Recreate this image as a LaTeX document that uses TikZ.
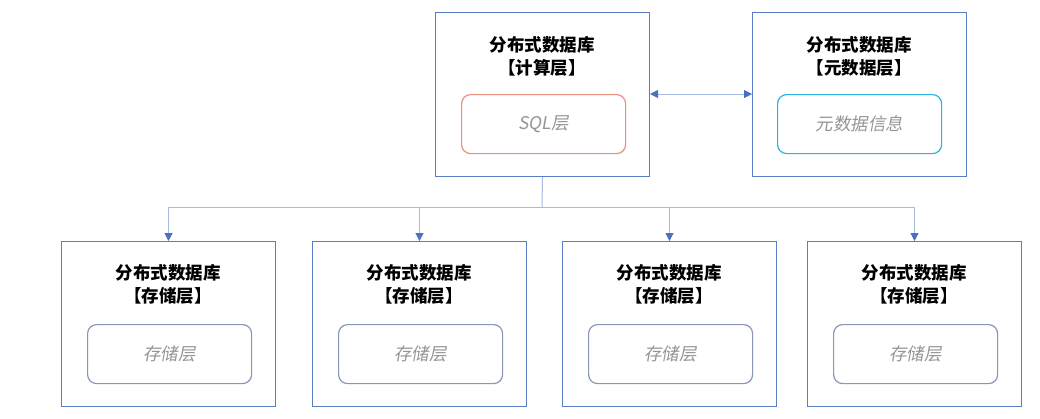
\documentclass[tikz,border=0pt]{standalone}
\usepackage{fontspec}
\usetikzlibrary{arrows.meta}
\setmainfont{Noto Sans CJK SC}
\newfontfamily\cjkslant[FakeSlant=0.18]{Noto Sans CJK SC}
\definecolor{boxblue}{HTML}{5A7EC6}
\definecolor{linkblue}{HTML}{A4BADF}
\definecolor{tipblue}{HTML}{4A70C0}
\definecolor{sqlred}{HTML}{E8907F}
\definecolor{metacyan}{HTML}{2EB2E2}
\definecolor{storgray}{HTML}{8797B5}
\definecolor{txtgray}{HTML}{959595}
\tikzset{
  outer/.style={draw=boxblue, line width=1pt, minimum width=214pt, minimum height=164pt, inner sep=0pt, anchor=north west},
  inner/.style={rounded corners=9pt, line width=1.2pt, minimum width=164pt, minimum height=59pt, inner sep=0pt, anchor=north west, font=\cjkslant\fontsize{17.5}{17.5}\selectfont, text=txtgray},
  title/.style={align=center, font=\bfseries\fontsize{17.5}{23}\selectfont, text=black, inner sep=0pt},
  link/.style={draw=linkblue, line width=1pt},
  tip/.tip={Triangle[length=8pt,width=8pt,color=tipblue]},
}
\begin{document}
\begin{tikzpicture}[x=1pt,y=-1pt]
\useasboundingbox (0,0) rectangle (1040,418);
\fill[white] (0,0) rectangle (1040,418);
% top boxes
\node[outer] (comp) at (435,12) {};
\node[outer] (meta) at (752,12) {};
\node[title] (comptitle) at (542,56) {分布式数据库\\【计算层】};
\node[title] (metatitle) at (859,56) {分布式数据库\\【元数据层】};
\node[inner, draw=sqlred] (sql) at (461,94) {SQL层};
\node[inner, draw=metacyan] (metainfo) at (777,94) {元数据信息};
% bottom boxes
\node[outer, minimum height=165pt] (s1) at (61,241) {};
\node[outer, minimum height=165pt] (s2) at (312,241) {};
\node[outer, minimum height=165pt] (s3) at (562,241) {};
\node[outer, minimum height=165pt] (s4) at (807,241) {};
\node[title] (t1) at (168,284) {分布式数据库\\【存储层】};
\node[title] (t2) at (419,284) {分布式数据库\\【存储层】};
\node[title] (t3) at (669,284) {分布式数据库\\【存储层】};
\node[title] (t4) at (914,284) {分布式数据库\\【存储层】};
\node[inner, draw=storgray] (i1) at (87,324) {存储层};
\node[inner, draw=storgray] (i2) at (338,324) {存储层};
\node[inner, draw=storgray] (i3) at (588,324) {存储层};
\node[inner, draw=storgray] (i4) at (833,324) {存储层};
% connectors
\coordinate (bus) at (542,207);
\draw[link] (comp.south) -- (bus);
\foreach \s in {s1,s2,s3,s4}{
  \draw[link, -tip] (bus) -| (\s.north);
}
\draw[link, tip-tip] (comp.east |- sql.north) -- (meta.west |- sql.north);
\end{tikzpicture}
\end{document}
